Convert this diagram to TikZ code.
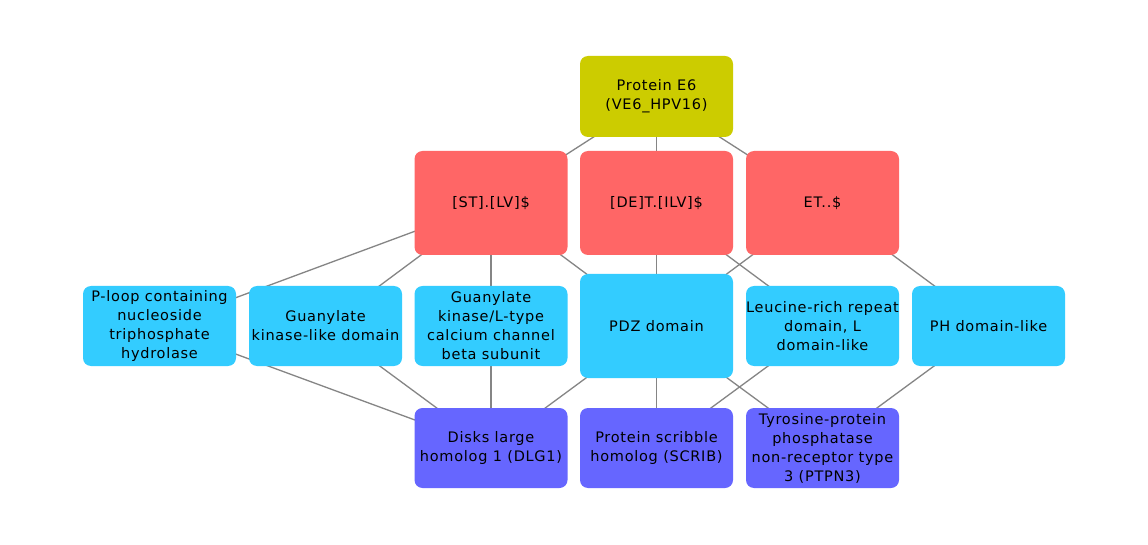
\documentclass[tikz,border=0pt]{standalone}
\usepackage{fontspec}
\setmainfont{DejaVu Sans}[LetterSpace=5]
\usetikzlibrary{backgrounds}
\begin{document}
\begin{tikzpicture}[x=1pt,y=-1pt,
  box/.style={rounded corners=8pt, inner sep=0pt, minimum width=153pt, minimum height=80pt, align=center,
    font=\fontsize{14.5}{19}\selectfont, text=black},
  topc/.style={box, fill=topcol, minimum height=81pt},
  motif/.style={box, fill=motifcol, minimum height=104pt},
  dom/.style={box, fill=domcol},
  bigdom/.style={box, fill=domcol, minimum height=104pt},
  prot/.style={box, fill=protcol},
  edge/.style={draw=edgecol, line width=1.3pt}]
\definecolor{topcol}{HTML}{CCCC00}
\definecolor{motifcol}{HTML}{FF6666}
\definecolor{domcol}{HTML}{33CCFF}
\definecolor{protcol}{HTML}{6666FF}
\definecolor{edgecol}{HTML}{858585}
\useasboundingbox (0,0) rectangle (1148,545);
\node[topc] (e6) at (656.5,96.5) {Protein E6\\(VE6\_HPV16)};
\node[motif] (st) at (491,203) {[ST].[LV]\$};
\node[motif] (de) at (656.5,203) {[DE]T.[ILV]\$};
\node[motif] (et) at (822.5,203) {ET..\$};
\node[dom] (ploop) at (159.5,326) {P-loop containing\\nucleoside\\triphosphate\\hydrolase};
\node[dom] (gkl) at (325.5,326) {Guanylate\\kinase-like domain};
\node[dom] (gkc) at (491,326) {Guanylate\\kinase/L-type\\calcium channel\\beta subunit};
\node[bigdom] (pdz) at (656.5,326) {PDZ domain};
\node[dom] (lrr) at (822.5,326) {Leucine-rich repeat\\domain, L\\domain-like};
\node[dom] (ph) at (988.5,326) {PH domain-like};
\node[prot] (dlg) at (491,448) {Disks large\\homolog 1 (DLG1)};
\node[prot] (scrib) at (656.5,448) {Protein scribble\\homolog (SCRIB)};
\node[prot] (ptpn) at (822.5,448) {Tyrosine-protein\\phosphatase\\non-receptor type\\3 (PTPN3)};
\begin{scope}[on background layer]
\fill[white] (0,0) rectangle (1148,545);
\draw[edge] (e6.center) -- (st.center);
\draw[edge] (e6.center) -- (de.center);
\draw[edge] (e6.center) -- (et.center);
\draw[edge] (st.center) -- (ploop.center);
\draw[edge] (st.center) -- (gkl.center);
\draw[edge] (st.center) -- (gkc.center);
\draw[edge] (st.center) -- (pdz.center);
\draw[edge] (de.center) -- (pdz.center);
\draw[edge] (de.center) -- (lrr.center);
\draw[edge] (et.center) -- (pdz.center);
\draw[edge] (et.center) -- (ph.center);
\draw[edge] (ploop.center) -- (dlg.center);
\draw[edge] (gkl.center) -- (dlg.center);
\draw[edge] (gkc.center) -- (dlg.center);
\draw[edge] (pdz.center) -- (dlg.center);
\draw[edge] (pdz.center) -- (scrib.center);
\draw[edge] (pdz.center) -- (ptpn.center);
\draw[edge] (lrr.center) -- (scrib.center);
\draw[edge] (ph.center) -- (ptpn.center);
\end{scope}
\end{tikzpicture}
\end{document}
